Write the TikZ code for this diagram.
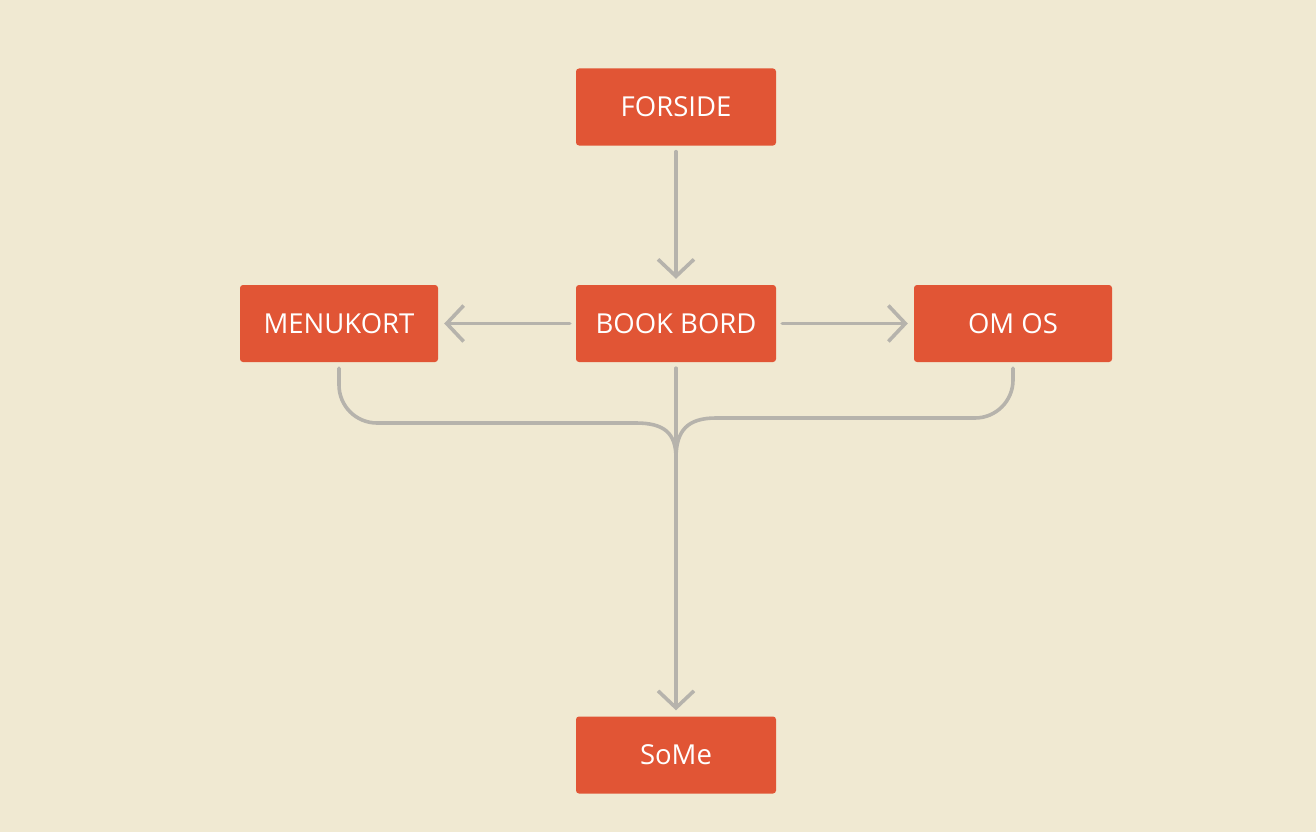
\documentclass[tikz,border=0pt]{standalone}
\usepackage{fontspec}
\setmainfont{Open Sans}
\usetikzlibrary{arrows.meta,calc}
\definecolor{bg}{HTML}{F0E9D2}
\definecolor{boxc}{HTML}{E15535}
\definecolor{linec}{HTML}{B6B3AC}
\tikzset{
  pagebox/.style={fill=boxc, draw=none, rounded corners=3pt, minimum width=200pt, minimum height=77pt, inner sep=0pt, text=white, font=\fontsize{27.5}{30}\selectfont},
  conn/.style={draw=linec, line width=3.6pt, line cap=round, line join=round},
  tipped/.style={conn, -{Straight Barb[length=17pt,width=36pt,line width=3.6pt]}},
}
\begin{document}
\begin{tikzpicture}[x=1pt,y=-1pt]
\fill[bg] (0,0) rectangle (1316,832);
\useasboundingbox (0,0) rectangle (1316,832);
\node[pagebox] (forside) at (676,107) {FORSIDE};
\node[pagebox] (book) at (676,323.5) {BOOK BORD};
\node[pagebox, minimum width=198pt] (menu) at (339,323.5) {MENUKORT};
\node[pagebox, minimum width=198pt] (omos) at (1013,323.5) {OM OS};
\node[pagebox] (some) at (676,755) {SoMe};
\coordinate (merge) at (676,458);
\draw[tipped, shorten <=6pt, shorten >=6pt] (forside.south) -- (book.north);
\draw[tipped, shorten <=6pt, shorten >=6pt] (book.west) -- (menu.east);
\draw[tipped, shorten <=6pt, shorten >=6pt] (book.east) -- (omos.east -| omos.west);
\draw[tipped, shorten <=6pt, shorten >=6pt] (book.south) -- (some.north);
\draw[conn] ($(menu.south)+(0,6)$) -- (339,385) arc[start angle=180, end angle=90, radius=38] -- (636,423) .. controls (664,423) and (676,433) .. (merge);
\draw[conn] ($(omos.south)+(0,6)$) -- (1013,380) arc[start angle=0, end angle=90, radius=38] -- (716,418) .. controls (688,418) and (676,430) .. (merge);
\end{tikzpicture}
\end{document}
